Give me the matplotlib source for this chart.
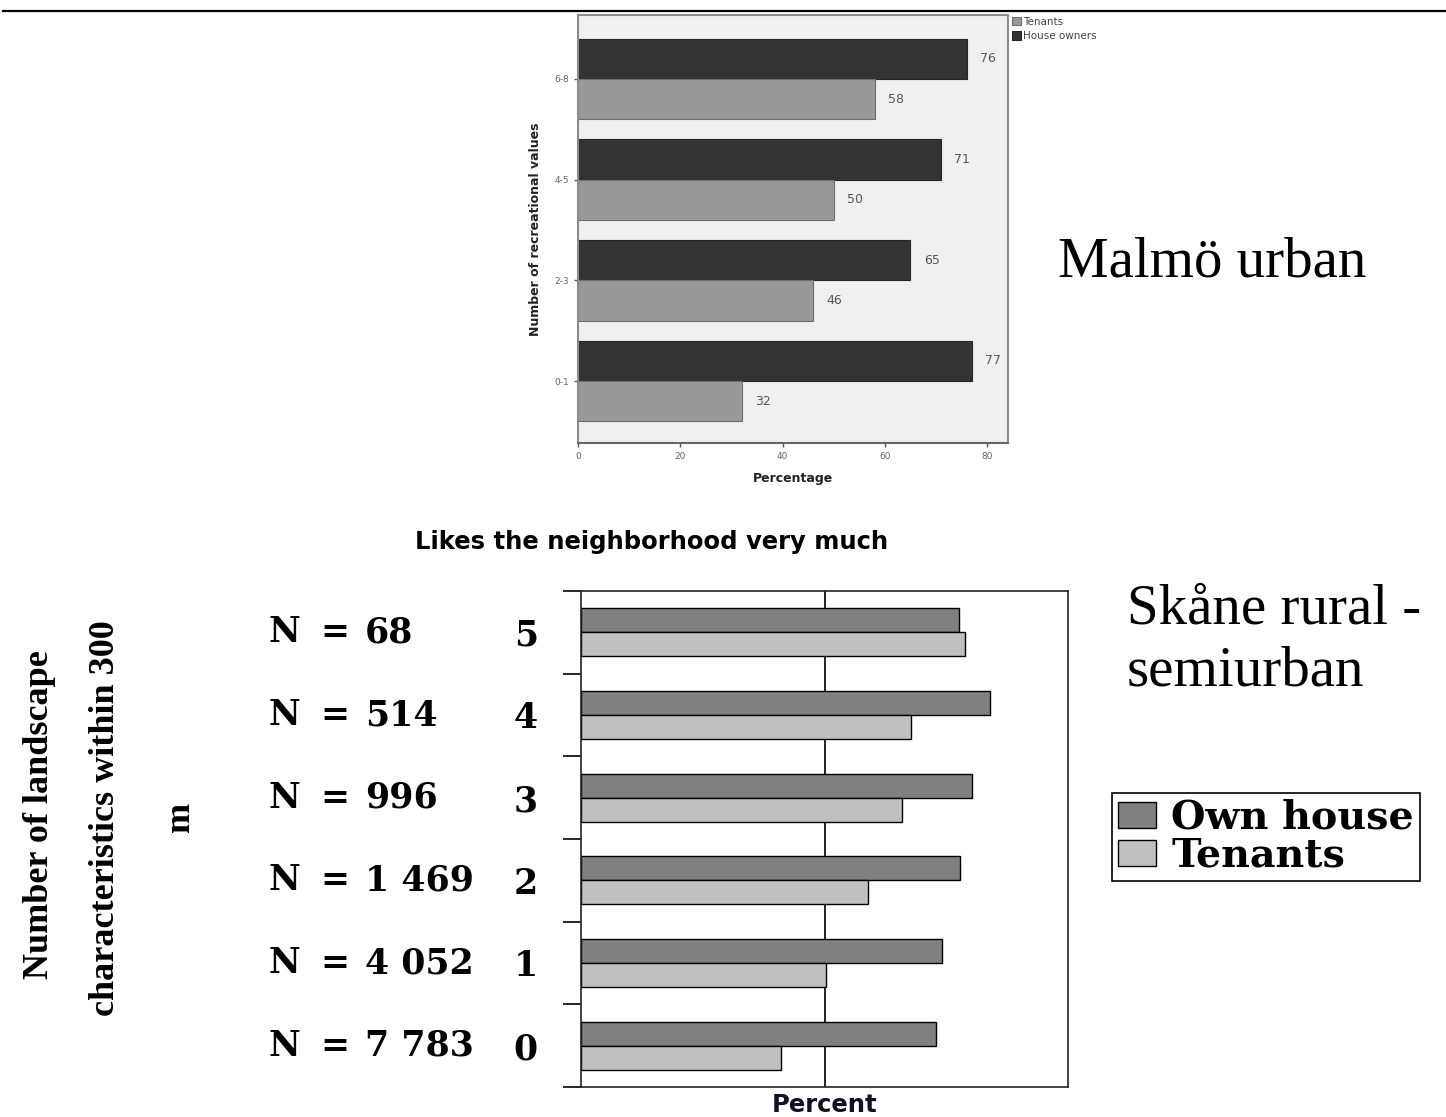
"""Two stacked horizontal bar charts: Malmö urban and Skåne rural - semiurban."""

import numpy as np
import matplotlib.pyplot as plt
from matplotlib.lines import Line2D
from matplotlib.patches import Patch
from matplotlib.transforms import blended_transform_factory

# Top chart data (Malmö urban)
top_cats = ['0-1', '2-3', '4-5', '6-8']
top_owners = [77, 65, 71, 76]
top_tenants = [32, 46, 50, 58]

# Bottom chart data (Skåne rural - semiurban)
bot_cats = ['0', '1', '2', '3', '4', '5']
bot_n = ['7 783', '4 052', '1 469', '996', '514', '68']
bot_own = [72.9, 74.1, 77.8, 80.3, 84.0, 77.6]
bot_tenants = [41.1, 50.3, 58.9, 65.9, 67.8, 78.9]

W, H = 1446, 1117
fig = plt.figure(figsize=(W / 100, H / 100), dpi=100)


def fx(px):
    return px / W


def fy(py):
    return 1 - py / H


# Thin rule across the top of the page
fig.add_artist(Line2D([fx(3), fx(1446)], [fy(11), fy(11)], color='black', lw=1.6))

# ---------- Top chart ----------
ax1 = fig.add_axes([fx(578), fy(443), fx(1008) - fx(578), fy(15) - fy(443)])
ax1.set_facecolor('#f0f0f0')
y = np.arange(len(top_cats))
h = 0.4
ax1.barh(y + h / 2, top_owners, height=h, color='#333333', edgecolor='#262626', lw=0.8,
         label='House owners')
ax1.barh(y - h / 2, top_tenants, height=h, color='#999999', edgecolor='#6e6e6e', lw=0.8,
         label='Tenants')
for i in range(len(top_cats)):
    ax1.text(top_owners[i] + 2.6, y[i] + h / 2, str(top_owners[i]), va='center',
             fontsize=9, color='#555555')
    ax1.text(top_tenants[i] + 2.6, y[i] - h / 2, str(top_tenants[i]), va='center',
             fontsize=9, color='#555555')
ax1.set_xlim(0, 84.1)
ax1.set_ylim(-0.615, 3.635)
ax1.set_xticks([0, 20, 40, 60, 80])
ax1.set_yticks(y)
ax1.set_yticklabels(top_cats)
ax1.tick_params(labelsize=6.5, labelcolor='#666666', color='#555555', length=3, width=1)
for s in ax1.spines.values():
    s.set_color('#8c8c8c')
    s.set_linewidth(1.5)
ax1.spines['bottom'].set_color('#666666')
ax1.set_xlabel('Percentage', fontsize=9, fontweight='bold', color='#222222', labelpad=8)
ax1.set_ylabel('Number of recreational values', fontsize=9, fontweight='bold',
               color='#222222', labelpad=9)
handles, labels = ax1.get_legend_handles_labels()
leg1 = ax1.legend(handles[::-1], labels[::-1], loc='upper left', bbox_to_anchor=(1.005, 1.0),
                  fontsize=7.5, frameon=False, handlelength=0.9, handleheight=0.9,
                  handletextpad=0.2, labelspacing=0.45, borderaxespad=0, borderpad=0.15)
for t in leg1.get_texts():
    t.set_color('#444444')

fig.text(fx(1058), fy(262), 'Malmö urban', fontsize=41, family='Liberation Serif',
         va='center', ha='left')

fig.text(fx(652), fy(542), 'Likes the neighborhood very much', fontsize=17.5,
         fontweight='bold', family='DejaVu Sans', va='center', ha='center')

# ---------- Bottom chart ----------
ax2 = fig.add_axes([fx(581), fy(1087), fx(1068) - fx(581), fy(591) - fy(1087)])
yb = np.arange(len(bot_cats))
hb = 0.29
ax2.axvline(50, color='black', lw=1.2, zorder=0)
ax2.barh(yb + hb / 2, bot_own, height=hb, color='#808080', edgecolor='black', lw=1.0,
         label='Own house', zorder=2)
ax2.barh(yb - hb / 2, bot_tenants, height=hb, color='#c0c0c0', edgecolor='black', lw=1.0,
         label='Tenants', zorder=2)
ax2.set_xlim(0, 100)
ax2.set_ylim(-0.5, 5.5)
ax2.set_xticks([])
ax2.set_yticks(yb)
ax2.set_yticklabels(bot_cats, fontsize=25, fontweight='bold', family='DejaVu Serif')
ax2.set_yticks(np.arange(-0.5, 6, 1), minor=True)
ax2.tick_params(axis='y', which='major', length=0, pad=31)
ax2.tick_params(axis='y', which='minor', length=13, width=1.2, direction='out')
for s in ax2.spines.values():
    s.set_color('#222222')
    s.set_linewidth(1.2)

row_tf = blended_transform_factory(fig.transFigure, ax2.transData)
nfont = dict(fontsize=25, fontweight='bold', family='DejaVu Serif', va='center')
for i in range(len(bot_cats)):
    ax2.text(fx(268), yb[i], 'N', transform=row_tf, ha='left', **nfont)
    ax2.text(fx(335), yb[i], '=', transform=row_tf, ha='center', **nfont)
    ax2.text(fx(365), yb[i], bot_n[i], transform=row_tf, ha='left', **nfont)
ax2.set_xlabel('Percent', fontsize=17.5, fontweight='bold', family='DejaVu Sans',
               color='#111122', labelpad=4)

fig.text(fx(40), fy(815), 'Number of landscape', rotation=90, fontsize=26,
         fontweight='bold', family='Liberation Serif', va='center', ha='center')
fig.text(fx(105), fy(818), 'characteristics within 300', rotation=90, fontsize=26,
         fontweight='bold', family='Liberation Serif', va='center', ha='center')
fig.text(fx(180), fy(817), 'm', rotation=90, fontsize=26,
         fontweight='bold', family='Liberation Serif', va='center', ha='center')

fig.text(fx(1127), fy(610), 'Skåne rural -', fontsize=41, family='Liberation Serif',
         va='center', ha='left')
fig.text(fx(1127), fy(672), 'semiurban', fontsize=41, family='Liberation Serif',
         va='center', ha='left')

leg_handles = [Patch(facecolor='#808080', edgecolor='black', label='Own house'),
               Patch(facecolor='#c0c0c0', edgecolor='black', label='Tenants')]
leg2 = fig.legend(handles=leg_handles, loc='upper left', bbox_to_anchor=(fx(1112), fy(793)),
                  prop={'family': 'DejaVu Serif', 'weight': 'bold', 'size': 28.5},
                  frameon=True, fancybox=False, edgecolor='black', framealpha=1,
                  handlelength=0.95, handleheight=0.6, handletextpad=0.4,
                  labelspacing=0.0, borderpad=0.15, borderaxespad=0)
leg2.get_frame().set_linewidth(1.2)

fig.savefig('out.png', dpi=100)
